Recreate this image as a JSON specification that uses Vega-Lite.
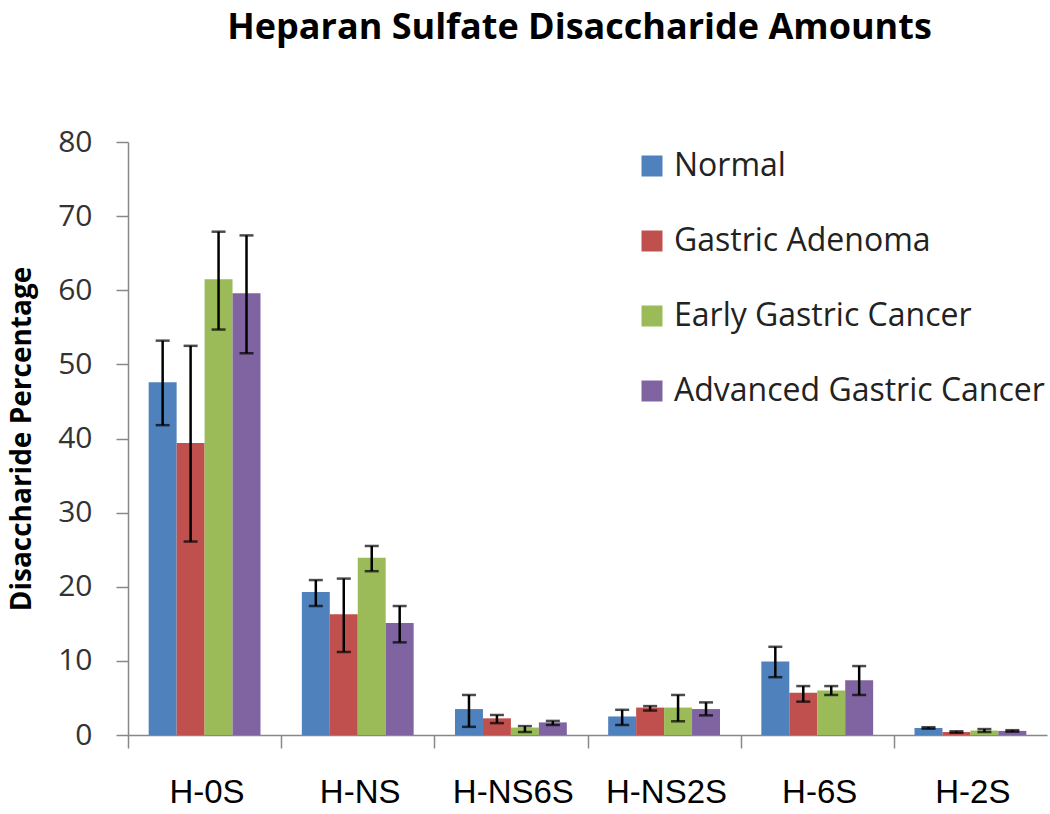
{
  "$schema": "https://vega.github.io/schema/vega-lite/v6.json",
  "width": 919,
  "height": 593,
  "autosize": {"type": "none"},
  "padding": {"left": 128, "top": 142, "right": 3, "bottom": 79},
  "background": "white",
  "title": {
    "text": "Heparan Sulfate Disaccharide  Amounts",
    "font": "Open Sans",
    "fontWeight": "bold",
    "fontSize": 36,
    "color": "#000000",
    "anchor": "middle",
    "frame": "group",
    "offset": 80,
    "dx": -8
  },
  "data": {
    "values": [
      {"category": "H-0S", "group": "Normal", "value": 47.6, "lo": 41.8, "hi": 53.2},
      {"category": "H-0S", "group": "Gastric Adenoma", "value": 39.4, "lo": 26.1, "hi": 52.5},
      {"category": "H-0S", "group": "Early Gastric Cancer", "value": 61.5, "lo": 54.7, "hi": 67.9},
      {"category": "H-0S", "group": "Advanced Gastric Cancer", "value": 59.6, "lo": 51.5, "hi": 67.4},
      {"category": "H-NS", "group": "Normal", "value": 19.3, "lo": 17.4, "hi": 20.9},
      {"category": "H-NS", "group": "Gastric Adenoma", "value": 16.3, "lo": 11.2, "hi": 21.1},
      {"category": "H-NS", "group": "Early Gastric Cancer", "value": 23.9, "lo": 22.1, "hi": 25.5},
      {"category": "H-NS", "group": "Advanced Gastric Cancer", "value": 15.1, "lo": 12.5, "hi": 17.4},
      {"category": "H-NS6S", "group": "Normal", "value": 3.5, "lo": 1.1, "hi": 5.4},
      {"category": "H-NS6S", "group": "Gastric Adenoma", "value": 2.25, "lo": 1.6, "hi": 2.7},
      {"category": "H-NS6S", "group": "Early Gastric Cancer", "value": 1.0, "lo": 0.4, "hi": 1.2},
      {"category": "H-NS6S", "group": "Advanced Gastric Cancer", "value": 1.7, "lo": 1.35, "hi": 1.9},
      {"category": "H-NS2S", "group": "Normal", "value": 2.5, "lo": 1.35, "hi": 3.4},
      {"category": "H-NS2S", "group": "Gastric Adenoma", "value": 3.7, "lo": 3.3, "hi": 3.9},
      {"category": "H-NS2S", "group": "Early Gastric Cancer", "value": 3.7, "lo": 1.85, "hi": 5.4},
      {"category": "H-NS2S", "group": "Advanced Gastric Cancer", "value": 3.5, "lo": 2.65, "hi": 4.4},
      {"category": "H-6S", "group": "Normal", "value": 9.9, "lo": 7.8, "hi": 11.9},
      {"category": "H-6S", "group": "Gastric Adenoma", "value": 5.7, "lo": 4.5, "hi": 6.6},
      {"category": "H-6S", "group": "Early Gastric Cancer", "value": 6.0, "lo": 5.4, "hi": 6.6},
      {"category": "H-6S", "group": "Advanced Gastric Cancer", "value": 7.4, "lo": 5.4, "hi": 9.3},
      {"category": "H-2S", "group": "Normal", "value": 0.95, "lo": 0.85, "hi": 1.05},
      {"category": "H-2S", "group": "Gastric Adenoma", "value": 0.4, "lo": 0.3, "hi": 0.5},
      {"category": "H-2S", "group": "Early Gastric Cancer", "value": 0.6, "lo": 0.4, "hi": 0.8},
      {"category": "H-2S", "group": "Advanced Gastric Cancer", "value": 0.55, "lo": 0.45, "hi": 0.65}
    ]
  },
  "encoding": {
    "x": {
      "field": "category",
      "type": "nominal",
      "sort": ["H-0S", "H-NS", "H-NS6S", "H-NS2S", "H-6S", "H-2S"],
      "scale": {"paddingInner": 0.27, "paddingOuter": 0.135},
      "axis": {
        "title": null,
        "labelAngle": 0,
        "labelFont": "Liberation Sans",
        "labelFontSize": 33,
        "labelColor": "#000000",
        "labelPadding": 28,
        "tickSize": 13,
        "tickColor": "#888888",
        "tickWidth": 1.5,
        "domainColor": "#888888",
        "domainWidth": 1.5,
        "tickOffset": -76.58,
        "labelOffset": 78.5
      }
    },
    "xOffset": {
      "field": "group",
      "type": "nominal",
      "sort": ["Normal", "Gastric Adenoma", "Early Gastric Cancer", "Advanced Gastric Cancer"],
      "scale": {"paddingInner": 0, "paddingOuter": 0}
    }
  },
  "layer": [
    {
      "mark": {"type": "bar"},
      "encoding": {
        "y": {
          "field": "value",
          "type": "quantitative",
          "scale": {"domain": [0, 80]},
          "axis": {
            "title": "Disaccharide Percentage",
            "titleFont": "Open Sans",
            "titleFontWeight": "bold",
            "titleFontSize": 28,
            "titleColor": "#000000",
            "titlePadding": 21,
            "values": [0, 10, 20, 30, 40, 50, 60, 70, 80],
            "labelFont": "Open Sans",
            "labelFontSize": 30,
            "labelColor": "#333333",
            "labelPadding": 24,
            "tickSize": 12,
            "tickColor": "#888888",
            "tickWidth": 1.5,
            "domainColor": "#888888",
            "domainWidth": 1.5,
            "grid": false
          }
        },
        "color": {
          "field": "group",
          "type": "nominal",
          "sort": ["Normal", "Gastric Adenoma", "Early Gastric Cancer", "Advanced Gastric Cancer"],
          "scale": {
            "domain": ["Normal", "Gastric Adenoma", "Early Gastric Cancer", "Advanced Gastric Cancer"],
            "range": ["#4F81BD", "#C0504D", "#9BBB59", "#8064A2"]
          },
          "legend": {
            "title": null,
            "orient": "none",
            "legendX": 508,
            "legendY": 8,
            "symbolType": "square",
            "symbolSize": 441,
            "symbolStrokeWidth": 0,
            "labelFont": "Open Sans",
            "labelFontSize": 32,
            "labelColor": "#222222",
            "labelOffset": 6,
            "rowPadding": 43,
            "labelLimit": 500
          }
        }
      }
    },
    {
      "mark": {"type": "rule", "color": "#000000", "strokeWidth": 2.5},
      "encoding": {
        "y": {"field": "lo", "type": "quantitative"},
        "y2": {"field": "hi"}
      }
    },
    {
      "mark": {"type": "tick", "color": "#000000", "size": 14, "thickness": 2.5, "orient": "horizontal"},
      "encoding": {
        "y": {"field": "lo", "type": "quantitative"}
      }
    },
    {
      "mark": {"type": "tick", "color": "#000000", "size": 14, "thickness": 2.5, "orient": "horizontal"},
      "encoding": {
        "y": {"field": "hi", "type": "quantitative"}
      }
    }
  ],
  "config": {
    "view": {"stroke": null}
  }
}
